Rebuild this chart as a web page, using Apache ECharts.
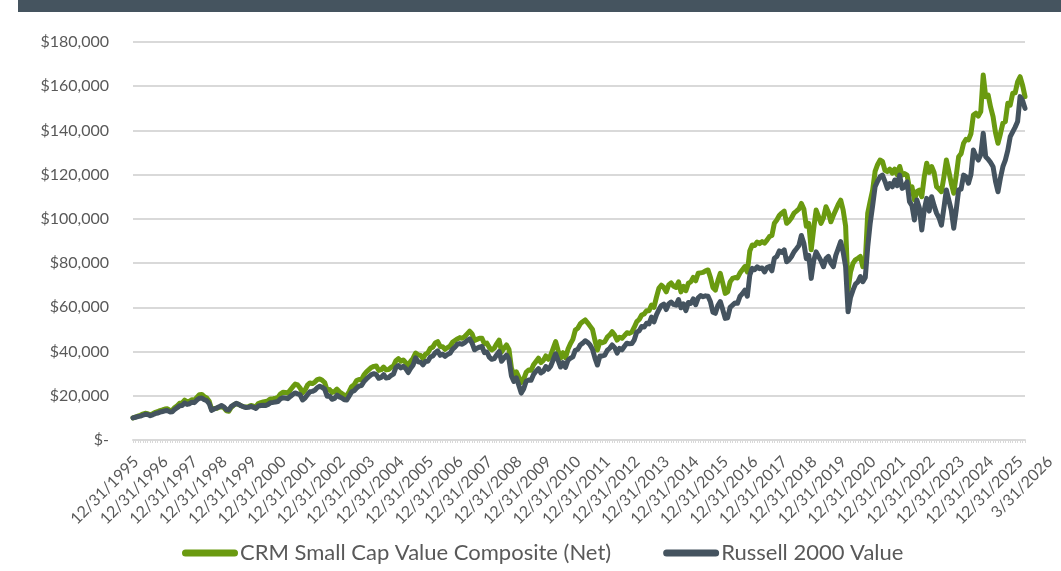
<!DOCTYPE html>
<html>
<head>
<meta charset="utf-8">
<script src="https://cdn.jsdelivr.net/npm/echarts@6/dist/echarts.min.js"></script>
<style>
  html, body { margin: 0; padding: 0; background: #fff; }
  #wrap { position: relative; width: 1061px; height: 571px; }
  #bar { position: absolute; left: 18px; top: 0; width: 1043px; height: 12px; background: #45545f; }
  #main { position: absolute; left: 0; top: 0; width: 1061px; height: 571px; }
</style>
</head>
<body>
<div id="wrap">
  <div id="main"></div>
  <div id="bar"></div>
</div>
<script>
// axis labels shown under the chart (one per year + last date)
var tickLabels = ['12/31/1995', '12/31/1996', '12/31/1997', '12/31/1998', '12/31/1999', '12/31/2000',
  '12/31/2001', '12/31/2002', '12/31/2003', '12/31/2004', '12/31/2005', '12/31/2006', '12/31/2007',
  '12/31/2008', '12/31/2009', '12/31/2010', '12/31/2011', '12/31/2012', '12/31/2013', '12/31/2014',
  '12/31/2015', '12/31/2016', '12/31/2017', '12/31/2018', '12/31/2019', '12/31/2020', '12/31/2021',
  '12/31/2022', '12/31/2023', '12/31/2024', '12/31/2025', '3/31/2026'];

// growth of $10,000, month ends 12/1995 .. 3/2026
var crm = [
  10000,
  10400, 10800, 11200, 11700, 12100, 11900, 11400, 11900, 12500, 12800, 13300, 13600, // 1996
  14000, 14100, 13400, 13500, 14700, 15500, 16600, 16800, 18000, 17300, 17600, 18200, // 1997
  18000, 19300, 20500, 20600, 19600, 19000, 17500, 13800, 14200, 14300, 14800, 15000, // 1998
  14600, 13200, 13000, 14800, 15800, 16400, 16100, 15500, 15100, 14900, 15100, 15600, // 1999
  15300, 15000, 16500, 16900, 17200, 17400, 17800, 18600, 18700, 18900, 19200, 20800, // 2000
  21600, 21500, 21200, 22600, 24000, 25300, 24900, 23500, 21400, 22600, 24800, 25800, // 2001
  25500, 26200, 27300, 27600, 27000, 26000, 22500, 22800, 21500, 21900, 23000, 21800, // 2002
  21000, 20200, 20000, 22000, 24200, 25000, 26900, 27400, 27300, 29500, 30800, 31800, // 2003
  32800, 33300, 33500, 31500, 31800, 33000, 31700, 31900, 32800, 33500, 35900, 36800, // 2004
  35600, 36200, 35000, 33800, 35600, 37000, 39300, 38500, 38200, 36900, 38800, 39400, // 2005
  41500, 42000, 43900, 44500, 42300, 42200, 41000, 41800, 42500, 44200, 45000, 45700, // 2006
  46300, 46000, 46800, 48000, 49200, 48000, 45000, 45500, 46000, 46000, 43500, 43800, // 2007
  41800, 40700, 41500, 43500, 45200, 39800, 41500, 43000, 41000, 32500, 29500, 30800, // 2008
  28500, 26000, 27500, 30600, 31700, 31500, 34000, 35500, 37000, 35000, 36000, 38000, // 2009
  36500, 38400, 41500, 44500, 40500, 37000, 39500, 37200, 41000, 43500, 45500, 49700, // 2010
  50500, 52500, 53500, 54300, 53000, 51500, 50000, 45000, 40700, 44500, 44000, 44500, // 2011
  46500, 47500, 49000, 47500, 45200, 46500, 46000, 47200, 48500, 48200, 48800, 51000, // 2012
  53500, 54500, 56500, 57000, 58500, 58500, 61000, 60000, 64500, 68600, 70000, 69000, // 2013
  67000, 70100, 71000, 69500, 69000, 71500, 67000, 69500, 67500, 70900, 71500, 73500, // 2014
  72000, 75400, 75600, 75800, 76500, 76900, 73500, 69000, 67800, 72000, 75400, 71000, // 2015
  66300, 67000, 71500, 73100, 73500, 73300, 75500, 77000, 78400, 76000, 85500, 88200, // 2016
  88000, 89500, 88800, 89700, 89000, 90400, 92000, 92500, 98000, 99500, 101500, 102600, // 2017
  103500, 98000, 99000, 100500, 102600, 103500, 104500, 107000, 104500, 96700, 98000, 86000, // 2018
  95500, 104000, 101000, 98000, 100500, 105500, 103000, 98700, 101500, 104000, 106500, 108500, // 2019
  104000, 96700, 67800, 76000, 79900, 81500, 82200, 83000, 78400, 80500, 102600, 108000, // 2020
  113000, 121500, 124500, 126600, 126000, 122000, 121400, 122500, 120700, 122500, 120000, 123700, // 2021
  119800, 120500, 119800, 113800, 114500, 108500, 112300, 113000, 110000, 119000, 125200, 121000, // 2022
  123700, 121000, 114600, 113500, 112300, 119000, 126600, 121500, 116100, 111600, 119500, 128100, // 2023
  129500, 134200, 136000, 135700, 138500, 147000, 147800, 146500, 148500, 165100, 155300, 156000, // 2024
  150500, 146200, 139000, 134200, 138500, 143300, 144000, 152300, 151500, 156800, 157000, 162000, // 2025
  164300, 160500, 155300 // 2026
];

var russell = [
  10000,
  10300, 10600, 10800, 11200, 11600, 11500, 11000, 11400, 11900, 12200, 12600, 12900, // 1996
  13200, 13300, 12700, 12800, 13900, 14600, 15500, 15600, 16700, 16100, 16400, 17100, // 1997
  16900, 18100, 18900, 19000, 18200, 17800, 16500, 13400, 14000, 14500, 15000, 15600, // 1998
  15000, 13800, 13600, 15200, 15900, 16600, 16100, 15500, 15000, 14700, 14800, 15200, // 1999
  14800, 14300, 15400, 15600, 15700, 15600, 16100, 16900, 17000, 17200, 17400, 18600, // 2000
  19100, 19000, 18700, 19700, 20600, 21300, 20900, 20400, 18100, 19000, 20500, 21800, // 2001
  22000, 22500, 23700, 24300, 23800, 23000, 19800, 19900, 18400, 18800, 20300, 19500, // 2002
  19000, 18200, 18100, 19900, 21800, 22300, 23500, 24400, 24600, 26500, 27600, 28600, // 2003
  29600, 30000, 29600, 27900, 28300, 29600, 28000, 28200, 29200, 29800, 32800, 33700, // 2004
  32600, 33300, 32300, 30500, 32400, 33900, 37200, 35400, 35200, 34000, 35500, 35600, // 2005
  37500, 38000, 39500, 40300, 38300, 38800, 37800, 38700, 39200, 41000, 42000, 43300, // 2006
  43600, 43300, 44000, 45000, 45700, 43800, 40800, 41500, 42000, 42300, 39500, 39800, // 2007
  37500, 36500, 36800, 38500, 40000, 35600, 37100, 38400, 36500, 29000, 26500, 28100, // 2008
  24800, 21200, 23200, 26600, 27100, 27000, 29600, 31100, 32300, 30300, 31000, 33200, // 2009
  32000, 33400, 36300, 39000, 36000, 33000, 35000, 32800, 36000, 37000, 37600, 40600, // 2010
  41000, 43000, 43800, 44900, 44200, 43000, 41000, 37000, 33900, 38000, 38000, 38400, // 2011
  40500, 41500, 43000, 41800, 39300, 41400, 40800, 42400, 43800, 43500, 43600, 45300, // 2012
  48800, 49400, 51300, 51100, 52800, 52500, 55600, 53400, 56600, 58900, 60800, 61500, // 2013
  59000, 61500, 62400, 61300, 61000, 63500, 59800, 61600, 58500, 62200, 61800, 63800, // 2014
  61200, 64300, 65300, 64800, 65200, 65000, 62500, 57800, 57300, 60800, 62600, 59000, // 2015
  55000, 55300, 60000, 61000, 62000, 61800, 64900, 66200, 67800, 65000, 74500, 77600, // 2016
  77000, 78300, 77500, 77800, 76000, 78000, 78500, 76500, 82200, 83000, 85500, 84800, // 2017
  86000, 80600, 81500, 83000, 85100, 86500, 88000, 92500, 89000, 82000, 83500, 73100, // 2018
  81000, 85100, 83000, 81000, 78400, 82000, 83000, 80000, 78400, 83500, 86500, 89700, // 2019
  85000, 78400, 58000, 64500, 67800, 70500, 71500, 73900, 71600, 73500, 87400, 98000, // 2020
  106000, 114600, 117000, 119000, 119800, 117000, 113800, 116000, 114500, 117600, 115000, 119800, // 2021
  113800, 114500, 116800, 107800, 106000, 99500, 108500, 105000, 95000, 104000, 109300, 103500, // 2022
  110000, 106000, 102600, 100500, 97200, 105000, 113100, 108500, 104000, 95800, 104000, 113100, // 2023
  113500, 119800, 119000, 116100, 120000, 131200, 128500, 126600, 129000, 138700, 128100, 127000, // 2024
  125500, 123600, 117000, 112300, 118500, 123600, 126600, 131000, 137200, 139400, 141500, 144000, // 2025
  155300, 153500, 150000 // 2026
];

// month-end categories for the data axis
var months = [];
var mDays = [31, 28, 31, 30, 31, 30, 31, 31, 30, 31, 30, 31];
months.push('12/31/1995');
for (var y = 1996; y <= 2026; y++) {
  for (var m = 1; m <= 12; m++) {
    if (y === 2026 && m > 3) break;
    var d = mDays[m - 1];
    if (m === 2 && y % 4 === 0) d = 29;
    months.push(m + '/' + d + '/' + y);
  }
}

var font = 'Lato, "Open Sans", sans-serif';
var txt = '#595959';

var chart = echarts.init(document.getElementById('main'));
chart.setOption({
  animation: false,
  textStyle: { fontFamily: font },
  grid: [
    { left: 133, right: 36, top: 42, bottom: 131 },
    { left: 136, right: 11, top: 42, bottom: 131 }
  ],
  legend: {
    left: 177,
    top: 537,
    itemWidth: 56,
    itemHeight: 7,
    itemGap: 52,
    icon: 'path://M3.5,0 H52.5 A3.5,3.5 0 0 1 52.5,7 H3.5 A3.5,3.5 0 0 1 3.5,0 Z',
    textStyle: { fontFamily: font, fontSize: 22, color: txt, padding: [0, 0, 0, -3] },
    data: ['CRM Small Cap Value Composite (Net)', 'Russell 2000 Value']
  },
  xAxis: [
    {
      type: 'category',
      gridIndex: 0,
      data: months,
      boundaryGap: false,
      axisLine: { lineStyle: { color: '#d9d9d9', width: 2 } },
      axisTick: { show: true, interval: 0, length: 3, lineStyle: { color: '#d9d9d9', width: 1 } },
      axisLabel: { show: false },
      splitLine: { show: false }
    },
    {
      type: 'category',
      gridIndex: 1,
      data: tickLabels,
      boundaryGap: false,
      axisLine: { show: false },
      axisTick: { show: false },
      axisLabel: { interval: 0, rotate: 45, margin: 19, fontSize: 16, color: txt, fontFamily: font },
      splitLine: { show: false }
    }
  ],
  yAxis: [
    {
      type: 'value',
      gridIndex: 0,
      min: 0,
      max: 180000,
      interval: 20000,
      axisLine: { show: false },
      axisTick: { show: false },
      splitLine: { lineStyle: { color: '#d9d9d9', width: 2 } },
      axisLabel: {
        margin: 24,
        fontSize: 16,
        color: txt,
        fontFamily: font,
        formatter: function (v) {
          return v === 0 ? '$-' : '$' + v.toLocaleString('en-US');
        }
      }
    },
    { type: 'value', gridIndex: 1, show: false, min: 0, max: 1 }
  ],
  series: [
    {
      name: 'CRM Small Cap Value Composite (Net)',
      type: 'line',
      data: crm,
      xAxisIndex: 0,
      yAxisIndex: 0,
      showSymbol: false,
      symbol: 'none',
      color: '#6a9a10',
      lineStyle: { width: 5, color: '#6a9a10', cap: 'round', join: 'round' }
    },
    {
      name: 'Russell 2000 Value',
      type: 'line',
      data: russell,
      xAxisIndex: 0,
      yAxisIndex: 0,
      showSymbol: false,
      symbol: 'none',
      color: '#44535f',
      lineStyle: { width: 5, color: '#44535f', cap: 'round', join: 'round' }
    }
  ]
});
</script>
</body>
</html>
